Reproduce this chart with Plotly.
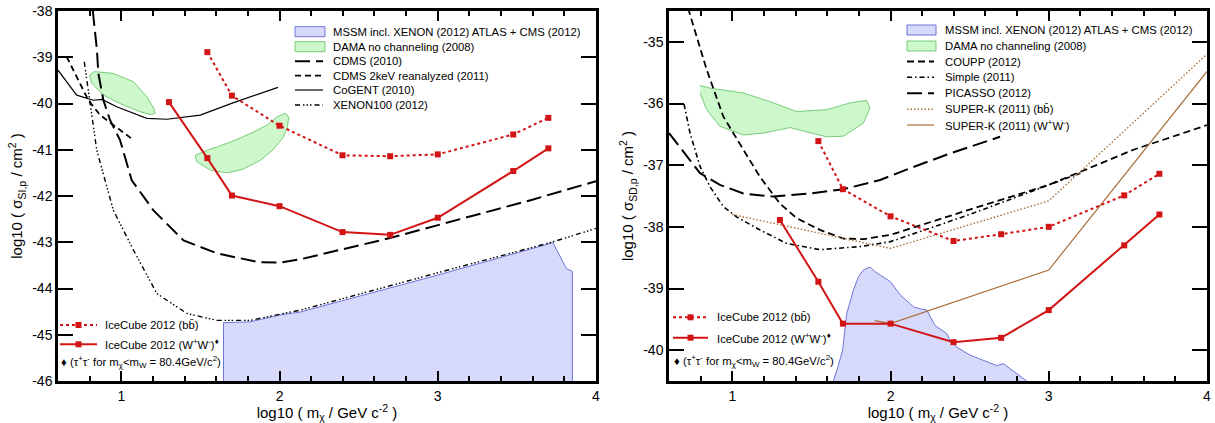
import plotly.graph_objects as go

# ---------------- data ----------------
# IceCube masses (log10 GeV)
x_ic_ww = [1.301, 1.544, 1.699, 2.0, 2.398, 2.699, 3.0, 3.477, 3.699]
x_ic_bb = [1.544, 1.699, 2.0, 2.398, 2.699, 3.0, 3.477, 3.699]

# Spin-independent panel
y_si_ic_ww = [-39.97, -41.18, -41.99, -42.22, -42.78, -42.84, -42.47, -41.46, -40.97]
y_si_ic_bb = [-38.89, -39.83, -40.48, -41.12, -41.14, -41.10, -40.67, -40.31]

x_cdms = [0.82, 0.846, 0.855, 0.887, 0.929, 0.992, 1.066, 1.203, 1.393, 1.604, 1.868, 2.0, 2.13, 2.697, 3.587, 4.0]
y_cdms = [-38.0, -38.84, -39.35, -39.93, -40.36, -40.79, -41.66, -42.31, -42.96, -43.24, -43.43, -43.44, -43.37, -42.91, -42.09, -41.68]

x_cdms2 = [0.655, 0.739, 0.792, 0.866, 0.95, 1.077]
y_cdms2 = [-38.99, -39.56, -39.93, -40.25, -40.47, -40.79]

x_cogent = [0.6, 0.718, 0.823, 0.877, 0.971, 1.161, 1.288, 1.499, 1.71, 1.99]
y_cogent = [-39.28, -39.82, -39.93, -39.91, -40.07, -40.32, -40.34, -40.25, -39.98, -39.65]

x_xenon = [0.766, 0.8, 0.845, 0.95, 1.077, 1.225, 1.415, 1.604, 1.815, 2.068, 2.13, 3.0, 3.73, 4.0]
y_xenon = [-39.10, -39.93, -41.01, -42.31, -43.17, -44.11, -44.54, -44.69, -44.69, -44.51, -44.47, -43.66, -42.99, -42.70]

x_mssm_si = [1.646, 1.646, 1.815, 2.005, 2.13, 3.0, 3.728, 3.777, 3.813, 3.851, 3.851]
y_mssm_si = [-46.2, -44.74, -44.72, -44.57, -44.51, -43.71, -43.01, -43.32, -43.57, -43.63, -46.2]

x_dama_si_a = [0.798, 0.83, 0.95, 1.077, 1.161, 1.205, 1.214, 1.19, 1.119, 0.992, 0.887, 0.813, 0.798]
y_dama_si_a = [-39.39, -39.31, -39.35, -39.53, -39.85, -40.10, -40.21, -40.24, -40.18, -40.0, -39.82, -39.56, -39.39]
x_dama_si_b = [1.467, 1.55, 1.604, 1.7, 1.815, 1.92, 1.984, 2.037, 2.058, 2.05, 2.026, 1.96, 1.878, 1.77, 1.668, 1.562, 1.478, 1.467]
y_dama_si_b = [-41.12, -41.0, -40.94, -40.82, -40.65, -40.47, -40.29, -40.21, -40.30, -40.5, -40.72, -41.0, -41.23, -41.42, -41.50, -41.44, -41.26, -41.12]

# Spin-dependent panel
y_sd_ic_ww = [-37.89, -38.89, -39.57, -39.57, -39.87, -39.80, -39.35, -38.30, -37.80]
y_sd_ic_bb = [-36.61, -37.39, -37.83, -38.23, -38.12, -38.00, -37.49, -37.14]

x_coupp = [0.70, 0.726, 0.838, 0.943, 1.07, 1.175, 1.30, 1.407, 1.554, 1.702, 1.83, 2.0, 2.5, 3.0, 3.535, 4.0]
y_coupp = [-34.1, -34.5, -35.45, -36.21, -36.75, -37.19, -37.62, -37.86, -38.05, -38.19, -38.20, -38.13, -37.72, -37.32, -36.75, -36.35]

x_simple = [0.695, 0.733, 0.796, 0.859, 0.943, 1.028, 1.175, 1.344, 1.554, 1.807, 2.0, 2.5, 3.2]
y_simple = [-36.01, -36.48, -37.02, -37.35, -37.67, -37.84, -38.05, -38.27, -38.37, -38.32, -38.24, -37.80, -37.13]

x_picasso = [0.6, 0.796, 0.922, 1.07, 1.259, 1.491, 1.702, 1.934, 2.123, 2.376, 2.692]
y_picasso = [-36.48, -37.13, -37.32, -37.46, -37.51, -37.46, -37.39, -37.24, -37.05, -36.81, -36.54]

x_superk_bb = [1.0, 2.0, 3.0, 4.0]
y_superk_bb = [-37.80, -38.35, -37.58, -35.20]

x_superk_ww = [1.9, 2.0, 3.0, 4.0]
y_superk_ww = [-39.52, -39.57, -38.70, -35.48]

x_mssm_sd = [1.639, 1.639, 1.67, 1.697, 1.723, 1.765, 1.797, 1.828, 1.871, 1.902, 1.934, 2.0, 2.063, 2.147,
             2.187, 2.229, 2.281, 2.355, 2.376, 2.418, 2.503, 2.6, 2.671, 2.713, 2.797, 2.861, 2.861]
y_mssm_sd = [-40.7, -40.5, -40.25, -40.0, -39.41, -39.03, -38.81, -38.70, -38.65, -38.73, -38.78, -38.89, -39.11, -39.30,
             -39.33, -39.35, -39.60, -39.73, -39.84, -39.95, -40.08, -40.18, -40.25, -40.22, -40.38, -40.5, -40.7]

x_dama_sd = [0.796, 0.859, 1.07, 1.238, 1.407, 1.597, 1.744, 1.849, 1.87, 1.828, 1.702, 1.597, 1.47, 1.365, 1.196,
             1.07, 0.922, 0.838, 0.796]
y_dama_sd = [-35.71, -35.75, -35.83, -35.97, -36.13, -36.10, -35.99, -35.95, -36.08, -36.32, -36.53, -36.54, -36.46,
             -36.39, -36.48, -36.51, -36.37, -36.10, -35.83]

# tick labels
x_tickvals = [1, 2, 3, 4]
x_ticktext = ["1", "2", "3", "4"]
y_si_tickvals = [-46, -45, -44, -43, -42, -41, -40, -39, -38]
y_si_ticktext = ["-46", "-45", "-44", "-43", "-42", "-41", "-40", "-39", "-38"]
y_sd_tickvals = [-40, -39, -38, -37, -36, -35]
y_sd_ticktext = ["-40", "-39", "-38", "-37", "-36", "-35"]

# ---------------- style ----------------
W, H = 1215, 423
ML, MR, MT, MB = 58, 8, 11, 42
PW, PH = W - ML - MR, H - MT - MB
FONT = "Liberation Sans, Arial, sans-serif"
RED = "#d21414"
BROWN = "#a8703c"
BLUE_FILL = "rgba(214,217,250,1)"
BLUE_LINE = "#6f76d8"
GREEN_FILL = "rgba(204,248,204,1)"
GREEN_LINE = "#78cc78"
DASH_LONG = "15px,6px"
DASH_SHORT = "6px,4px"
DASH_XENON = "5px,3px,1.5px,2px,1.5px,2px,1.5px,3px"
DASH_SIMPLE = "5px,3px,1.5px,3px"
DASH_COUPP = "7px,4px"
LEG_SIZE = 11.3


def fx(px):
    return (px - ML) / PW


def fy(py):
    return (H - MB - py) / PH


fig = go.Figure()


def add(x, y, ax, **kw):
    xa, ya = ("x", "y") if ax == 1 else ("x2", "y2")
    fig.add_trace(go.Scatter(x=x, y=y, xaxis=xa, yaxis=ya, showlegend=False, hoverinfo="skip", **kw))


# ---- left panel ----
add(x_mssm_si, y_mssm_si, 1, mode="lines", fill="toself", fillcolor=BLUE_FILL, line=dict(color=BLUE_LINE, width=1))
add(x_dama_si_a, y_dama_si_a, 1, mode="lines", fill="toself", fillcolor=GREEN_FILL, line=dict(color=GREEN_LINE, width=1))
add(x_dama_si_b, y_dama_si_b, 1, mode="lines", fill="toself", fillcolor=GREEN_FILL, line=dict(color=GREEN_LINE, width=1))
add(x_cdms, y_cdms, 1, mode="lines", line=dict(color="black", width=2, dash=DASH_LONG))
add(x_cdms2, y_cdms2, 1, mode="lines", line=dict(color="black", width=1.8, dash=DASH_SHORT))
add(x_cogent, y_cogent, 1, mode="lines", line=dict(color="black", width=1.2))
add(x_xenon, y_xenon, 1, mode="lines", line=dict(color="black", width=1.4, dash=DASH_XENON))
add(x_ic_bb, y_si_ic_bb, 1, mode="lines+markers", line=dict(color=RED, width=2, dash="3px,3px"),
    marker=dict(symbol="square", size=6, color=RED))
add(x_ic_ww, y_si_ic_ww, 1, mode="lines+markers", line=dict(color=RED, width=2),
    marker=dict(symbol="square", size=6, color=RED))

# ---- right panel ----
add(x_mssm_sd, y_mssm_sd, 2, mode="lines", fill="toself", fillcolor=BLUE_FILL, line=dict(color=BLUE_LINE, width=1))
add(x_dama_sd, y_dama_sd, 2, mode="lines", fill="toself", fillcolor=GREEN_FILL, line=dict(color=GREEN_LINE, width=1))
add(x_coupp, y_coupp, 2, mode="lines", line=dict(color="black", width=1.8, dash=DASH_COUPP))
add(x_simple, y_simple, 2, mode="lines", line=dict(color="black", width=1.6, dash=DASH_SIMPLE))
add(x_picasso, y_picasso, 2, mode="lines", line=dict(color="black", width=2, dash=DASH_LONG))
add(x_superk_bb, y_superk_bb, 2, mode="lines", line=dict(color=BROWN, width=1.4, dash="1.5px,2px"))
add(x_superk_ww, y_superk_ww, 2, mode="lines", line=dict(color=BROWN, width=1.2))
add(x_ic_bb, y_sd_ic_bb, 2, mode="lines+markers", line=dict(color=RED, width=2, dash="3px,3px"),
    marker=dict(symbol="square", size=6, color=RED))
add(x_ic_ww, y_sd_ic_ww, 2, mode="lines+markers", line=dict(color=RED, width=2),
    marker=dict(symbol="square", size=6, color=RED))

# ---------------- manual legends ----------------
shapes, annots = [], []


def text(px, py, s, size=LEG_SIZE):
    annots.append(dict(x=fx(px), y=fy(py), xref="paper", yref="paper", text=s, showarrow=False,
                       xanchor="left", yanchor="middle", font=dict(family=FONT, size=size, color="black")))


def box(x0, x1, py, fill, line):
    shapes.append(dict(type="rect", xref="paper", yref="paper", x0=fx(x0), x1=fx(x1), y0=fy(py + 5), y1=fy(py - 5),
                       fillcolor=fill, line=dict(color=line, width=1)))


def seg(x0, x1, py, color, width, dash="solid"):
    shapes.append(dict(type="line", xref="paper", yref="paper", x0=fx(x0), x1=fx(x1), y0=fy(py), y1=fy(py),
                       line=dict(color=color, width=width, dash=dash)))


def sq(px, py, color):
    shapes.append(dict(type="rect", xref="paper", yref="paper", x0=fx(px - 3), x1=fx(px + 3), y0=fy(py + 3),
                       y1=fy(py - 3), fillcolor=color, line=dict(color=color, width=0)))


# left top
rows = [31.7, 46.7, 61.3, 75.7, 90.0, 105.0]
lx0, lx1, lt = 295, 325, 331
box(lx0, lx1, rows[0], BLUE_FILL, BLUE_LINE)
text(lt, rows[0], "MSSM incl. XENON (2012) ATLAS + CMS (2012)")
box(lx0, lx1, rows[1], GREEN_FILL, GREEN_LINE)
text(lt, rows[1], "DAMA no channeling (2008)")
seg(lx0, lx1 - 2, rows[2], "black", 2, DASH_LONG)
text(lt, rows[2], "CDMS (2010)")
seg(lx0, lx1 - 2, rows[3], "black", 1.8, DASH_SHORT)
text(lt, rows[3], "CDMS 2keV reanalyzed (2011)")
seg(lx0, lx1 - 2, rows[4], "black", 1.2)
text(lt, rows[4], "CoGENT (2010)")
seg(lx0, lx1 - 2, rows[5], "black", 1.4, DASH_XENON)
text(lt, rows[5], "XENON100 (2012)")

# right top
rows = [30.0, 46.0, 61.5, 77.3, 93.3, 109.3, 125.0]
rx0, rx1, rt = 907, 936, 942.5
box(rx0, rx1, rows[0], BLUE_FILL, BLUE_LINE)
text(rt, rows[0], "MSSM incl. XENON (2012) ATLAS + CMS (2012)")
box(rx0, rx1, rows[1], GREEN_FILL, GREEN_LINE)
text(rt, rows[1], "DAMA no channeling (2008)")
seg(rx0, rx1 - 2, rows[2], "black", 1.8, DASH_COUPP)
text(rt, rows[2], "COUPP (2012)")
seg(rx0, rx1 - 2, rows[3], "black", 1.6, DASH_SIMPLE)
text(rt, rows[3], "Simple (2011)")
seg(rx0, rx1 - 2, rows[4], "black", 2, DASH_LONG)
text(rt, rows[4], "PICASSO (2012)")
seg(rx0, rx1 - 2, rows[5], BROWN, 1.4, "1.5px,2px")
text(rt, rows[5], "SUPER-K (2011) (bb\u0304)")
seg(rx0, rx1 - 2, rows[6], BROWN, 1.2)
text(rt, rows[6], "SUPER-K (2011) (W<sup>+</sup>W<sup>-</sup>)")

# bottom legends
for (sx0, sx1, tx, r) in [(60, 97, 102.5, [325.0, 344.3, 362.3]), (673, 708, 715, [317.3, 337.7, 360.7])]:
    seg(sx0, sx1, r[0], RED, 2, "3px,3px")
    sq((sx0 + sx1) / 2, r[0], RED)
    text(tx, r[0], "IceCube 2012 (bb\u0304)")
    seg(sx0, sx1, r[1], RED, 2)
    sq((sx0 + sx1) / 2, r[1], RED)
    text(tx, r[1], "IceCube 2012 (W<sup>+</sup>W<sup>-</sup>)<sup>\u2666</sup>")
    text(sx0 - 1, r[2], "\u2666 (\u03c4<sup>+</sup>\u03c4<sup>-</sup> for m<sub>\u03c7</sub>&lt;m<sub>W</sub> = 80.4GeV/c<sup>2</sup>)")


def xaxis(domain, anchor):
    return dict(domain=domain, anchor=anchor, range=[0.6, 4], tickmode="array", tickvals=x_tickvals,
                ticktext=x_ticktext, ticks="inside", ticklen=10, tickwidth=2, tickcolor="black",
                minor=dict(dtick=0.2, tick0=0, ticks="inside", ticklen=5, tickwidth=1.5, tickcolor="black",
                           showgrid=False),
                showline=True, linewidth=2.5, linecolor="black", mirror="ticks", showgrid=False, zeroline=False,
                automargin=False,
                tickfont=dict(family=FONT, size=14, color="black"),
                title=dict(text="log10 ( m<sub>\u03c7</sub> / GeV c<sup>-2</sup> )",
                           font=dict(family=FONT, size=15, color="black"), standoff=3))


def yaxis(domain, anchor, rng, tv, tt, title):
    return dict(domain=domain, anchor=anchor, range=rng, tickmode="array", tickvals=tv, ticktext=tt,
                ticks="inside", ticklen=15, tickwidth=2, tickcolor="black",
                showline=True, linewidth=2.5, linecolor="black", mirror="ticks", showgrid=False, zeroline=False,
                automargin=False,
                tickfont=dict(family=FONT, size=14, color="black"),
                title=dict(text=title, font=dict(family=FONT, size=15, color="black"), standoff=6))


fig.update_layout(
    width=W, height=H,
    margin=dict(l=ML, r=MR, t=MT, b=MB),
    paper_bgcolor="white", plot_bgcolor="white",
    xaxis=xaxis([0, fx(596)], "y"),
    yaxis=yaxis([0, 1], "x", [-46, -38], y_si_tickvals, y_si_ticktext,
                "log10 ( \u03c3<sub>SI,p</sub> / cm<sup>2</sup> )"),
    xaxis2=xaxis([fx(669), 1], "y2"),
    yaxis2=yaxis([0, 1], "x2", [-40.5, -34.5], y_sd_tickvals, y_sd_ticktext,
                 "log10 ( \u03c3<sub>SD,p</sub> / cm<sup>2</sup> )"),
    shapes=shapes, annotations=annots, showlegend=False,
    font=dict(family=FONT, color="black"),
)

fig.write_html("out.html", config={"displayModeBar": False},
               post_script="document.body.style.margin='0';document.body.style.overflow='hidden';")
